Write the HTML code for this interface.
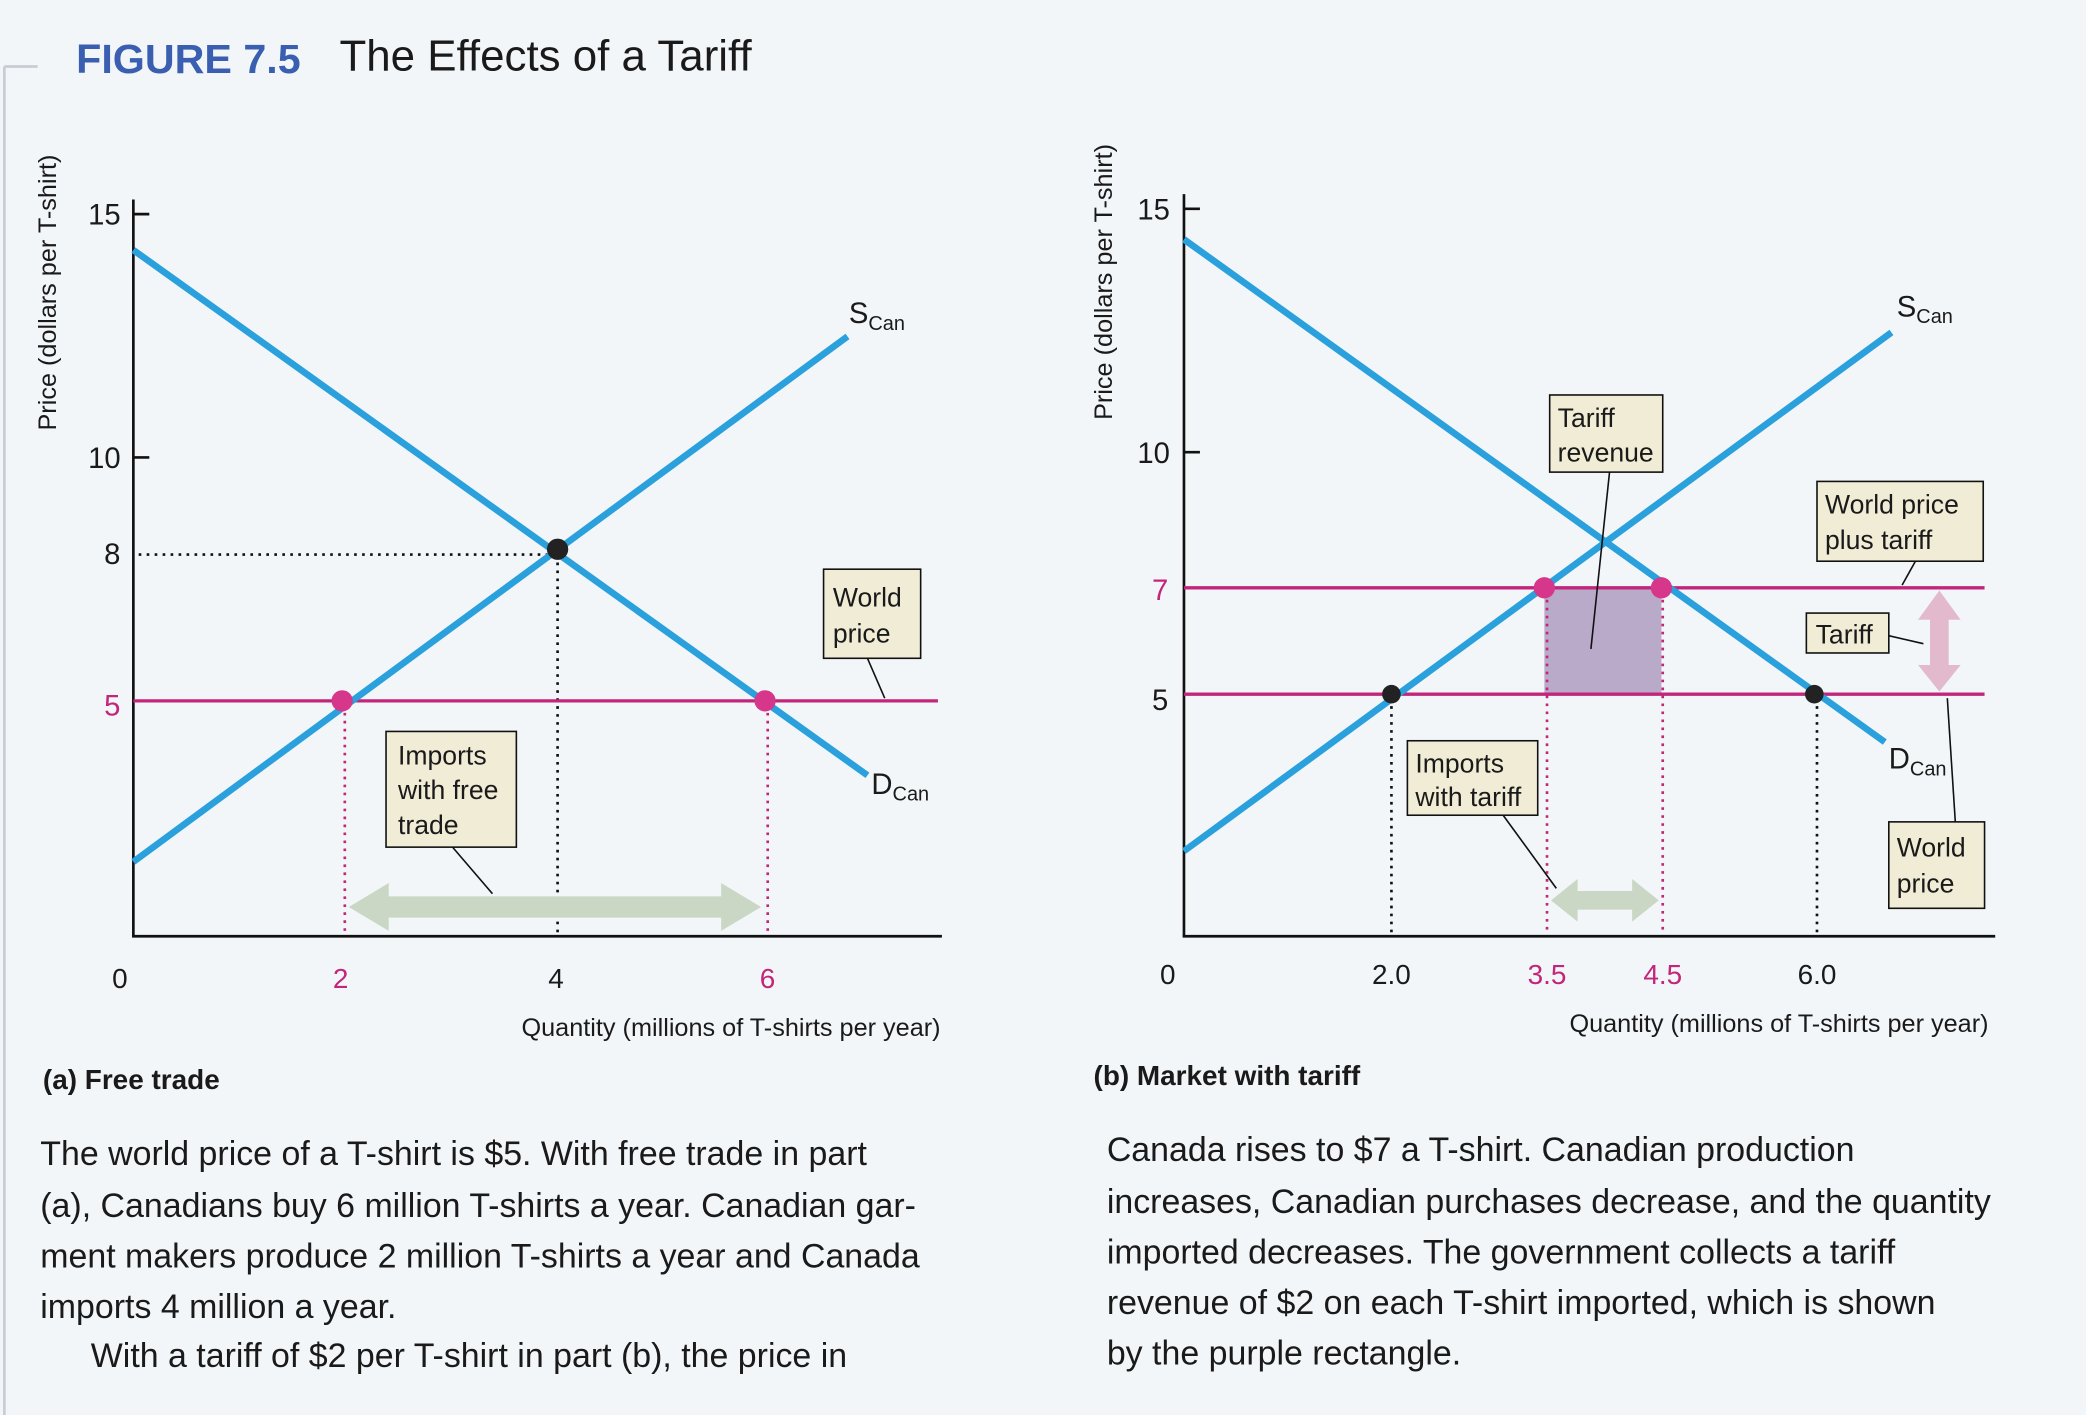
<!DOCTYPE html>
<html><head><meta charset="utf-8"><style>
html,body{margin:0;padding:0;background:#f3f6f9;}
svg{display:block;}
text{font-family:"Liberation Sans",sans-serif;fill:#1a1a1a;}
</style></head><body>
<svg width="2086" height="1415" viewBox="0 0 1568 1064" xmlns="http://www.w3.org/2000/svg">
<rect width="1568" height="1064" fill="#f3f6f9"/>
<line x1="3" y1="50" x2="3" y2="1064" stroke="#c8ccd4" stroke-width="2"/>
<line x1="3" y1="50" x2="28" y2="50" stroke="#c8ccd4" stroke-width="2"/>
<text x="57" y="55" font-size="31" font-weight="bold" style="fill:#3a5fb0">FIGURE 7.5</text>
<text x="255" y="53" font-size="33">The Effects of a Tariff</text>

<!-- Panel a -->
<g stroke="#111" stroke-width="2" fill="none">
<line x1="100" y1="150" x2="100" y2="704"/>
<line x1="99" y1="704" x2="708" y2="704"/>
<line x1="100" y1="161" x2="112" y2="161"/>
<line x1="100" y1="344" x2="112" y2="344"/>
</g>
<text x="42" y="220" font-size="19" transform="rotate(-90 42 220)" text-anchor="middle">Price (dollars per T-shirt)</text>
<text x="66" y="169" font-size="22">15</text>
<text x="66" y="352" font-size="22">10</text>
<text x="78" y="424" font-size="22">8</text>
<text x="78" y="538" font-size="22" style="fill:#c2267a">5</text>
<line x1="104" y1="417" x2="419" y2="417" stroke="#111" stroke-width="2" stroke-dasharray="2,4"/>
<line x1="419" y1="417" x2="419" y2="703" stroke="#111" stroke-width="2" stroke-dasharray="2,4"/>
<line x1="259" y1="530" x2="259" y2="703" stroke="#c2267a" stroke-width="2" stroke-dasharray="2,4"/>
<line x1="577" y1="530" x2="577" y2="703" stroke="#c2267a" stroke-width="2" stroke-dasharray="2,4"/>
<line x1="100" y1="527" x2="705" y2="527" stroke="#c2267a" stroke-width="2.5"/>
<polygon points="262,682 292,664 292,674 542,674 542,664 572,682 542,700 542,690 292,690 292,700" fill="#c9d7c4"/>
<line x1="100" y1="648" x2="637" y2="253" stroke="#2aa0dc" stroke-width="5"/>
<line x1="100" y1="188" x2="652" y2="583" stroke="#2aa0dc" stroke-width="5"/>
<circle cx="257" cy="527" r="8" fill="#d6378a"/>
<circle cx="575" cy="527" r="8" fill="#d6378a"/>
<circle cx="419" cy="413" r="8" fill="#222"/>
<text x="638" y="243" font-size="22">S<tspan font-size="15" dy="5">Can</tspan></text>
<text x="655" y="597" font-size="22">D<tspan font-size="15" dy="5">Can</tspan></text>
<line x1="652" y1="495" x2="665" y2="525" stroke="#111" stroke-width="1.2"/>
<rect x="619" y="428" width="73" height="67" fill="#f1ecd6" stroke="#111" stroke-width="1.2"/>
<text x="626" y="456" font-size="20">World</text>
<text x="626" y="483" font-size="20">price</text>
<line x1="340" y1="637" x2="370" y2="672" stroke="#111" stroke-width="1.2"/>
<rect x="290" y="550" width="98" height="87" fill="#f1ecd6" stroke="#111" stroke-width="1.2"/>
<text x="299" y="575" font-size="20">Imports</text>
<text x="299" y="601" font-size="20">with free</text>
<text x="299" y="627" font-size="20">trade</text>
<text x="84" y="743" font-size="21">0</text>
<text x="250" y="743" font-size="21" style="fill:#c2267a">2</text>
<text x="412" y="743" font-size="21">4</text>
<text x="571" y="743" font-size="21" style="fill:#c2267a">6</text>
<text x="707" y="779" font-size="19" text-anchor="end">Quantity (millions of T-shirts per year)</text>
<text x="32" y="819" font-size="21" font-weight="bold">(a) Free trade</text>

<!-- Panel b -->
<g stroke="#111" stroke-width="2" fill="none">
<line x1="890" y1="146" x2="890" y2="704"/>
<line x1="889" y1="704" x2="1500" y2="704"/>
<line x1="890" y1="157" x2="902" y2="157"/>
<line x1="890" y1="340" x2="902" y2="340"/>
</g>
<text x="836" y="212" font-size="19" transform="rotate(-90 836 212)" text-anchor="middle">Price (dollars per T-shirt)</text>
<text x="855" y="165" font-size="22">15</text>
<text x="855" y="348" font-size="22">10</text>
<text x="866" y="451" font-size="22" style="fill:#c2267a">7</text>
<text x="866" y="534" font-size="22">5</text>
<rect x="1161" y="442" width="88" height="80" fill="#b9aac9"/>
<line x1="1046" y1="525" x2="1046" y2="703" stroke="#111" stroke-width="2" stroke-dasharray="2,4"/>
<line x1="1163" y1="445" x2="1163" y2="703" stroke="#c2267a" stroke-width="2" stroke-dasharray="2,4"/>
<line x1="1250" y1="445" x2="1250" y2="703" stroke="#c2267a" stroke-width="2" stroke-dasharray="2,4"/>
<line x1="1366" y1="525" x2="1366" y2="703" stroke="#111" stroke-width="2" stroke-dasharray="2,4"/>
<line x1="890" y1="442" x2="1492" y2="442" stroke="#c2267a" stroke-width="2.5"/>
<line x1="890" y1="522" x2="1492" y2="522" stroke="#c2267a" stroke-width="2.5"/>
<polygon points="1166,677 1186,661 1186,670 1227,670 1227,661 1247,677 1227,693 1227,684 1186,684 1186,693" fill="#c9d7c4"/>
<polygon points="1458,444 1474,466 1465,466 1465,500 1474,500 1458,520 1442,500 1451,500 1451,466 1442,466" fill="#e2b9cd"/>
<line x1="890" y1="640" x2="1422" y2="250" stroke="#2aa0dc" stroke-width="5"/>
<line x1="890" y1="180" x2="1417" y2="558" stroke="#2aa0dc" stroke-width="5"/>
<circle cx="1161" cy="442" r="8" fill="#d6378a"/>
<circle cx="1249" cy="442" r="8" fill="#d6378a"/>
<circle cx="1046" cy="522" r="7" fill="#222"/>
<circle cx="1364" cy="522" r="7" fill="#222"/>
<text x="1426" y="238" font-size="22">S<tspan font-size="15" dy="5">Can</tspan></text>
<text x="1420" y="578" font-size="22">D<tspan font-size="15" dy="5">Can</tspan></text>
<g stroke="#111" stroke-width="1.2">
<line x1="1210" y1="355" x2="1196" y2="488"/>
<line x1="1440" y1="422" x2="1430" y2="440"/>
<line x1="1420" y1="478" x2="1446" y2="484"/>
<line x1="1464" y1="525" x2="1470" y2="618"/>
<line x1="1130" y1="613" x2="1170" y2="668"/>
</g>
<rect x="1165" y="297" width="85" height="58" fill="#f1ecd6" stroke="#111" stroke-width="1.2"/>
<text x="1171" y="321" font-size="20">Tariff</text>
<text x="1171" y="347" font-size="20">revenue</text>
<rect x="1366" y="362" width="125" height="60" fill="#f1ecd6" stroke="#111" stroke-width="1.2"/>
<text x="1372" y="386" font-size="20">World price</text>
<text x="1372" y="413" font-size="20">plus tariff</text>
<rect x="1358" y="461" width="62" height="30" fill="#f1ecd6" stroke="#111" stroke-width="1.2"/>
<text x="1365" y="484" font-size="20">Tariff</text>
<rect x="1058" y="557" width="98" height="56" fill="#f1ecd6" stroke="#111" stroke-width="1.2"/>
<text x="1064" y="581" font-size="20">Imports</text>
<text x="1064" y="606" font-size="20">with tariff</text>
<rect x="1420" y="618" width="72" height="65" fill="#f1ecd6" stroke="#111" stroke-width="1.2"/>
<text x="1426" y="644" font-size="20">World</text>
<text x="1426" y="671" font-size="20">price</text>
<text x="872" y="740" font-size="21">0</text>
<text x="1046" y="740" font-size="21" text-anchor="middle">2.0</text>
<text x="1163" y="740" font-size="21" text-anchor="middle" style="fill:#c2267a">3.5</text>
<text x="1250" y="740" font-size="21" text-anchor="middle" style="fill:#c2267a">4.5</text>
<text x="1366" y="740" font-size="21" text-anchor="middle">6.0</text>
<text x="1495" y="776" font-size="19" text-anchor="end">Quantity (millions of T-shirts per year)</text>
<text x="822" y="816" font-size="21" font-weight="bold">(b) Market with tariff</text>

<!-- body text -->
<g font-size="25.5">
<text x="30" y="876">The world price of a T-shirt is $5. With free trade in part</text>
<text x="30" y="915">(a), Canadians buy 6 million T-shirts a year. Canadian gar-</text>
<text x="30" y="953">ment makers produce 2 million T-shirts a year and Canada</text>
<text x="30" y="991">imports 4 million a year.</text>
<text x="68" y="1028">With a tariff of $2 per T-shirt in part (b), the price in</text>
<text x="832" y="873">Canada rises to $7 a T-shirt. Canadian production</text>
<text x="832" y="912">increases, Canadian purchases decrease, and the quantity</text>
<text x="832" y="950">imported decreases. The government collects a tariff</text>
<text x="832" y="988">revenue of $2 on each T-shirt imported, which is shown</text>
<text x="832" y="1026">by the purple rectangle.</text>
</g>
</svg>
</body></html>
